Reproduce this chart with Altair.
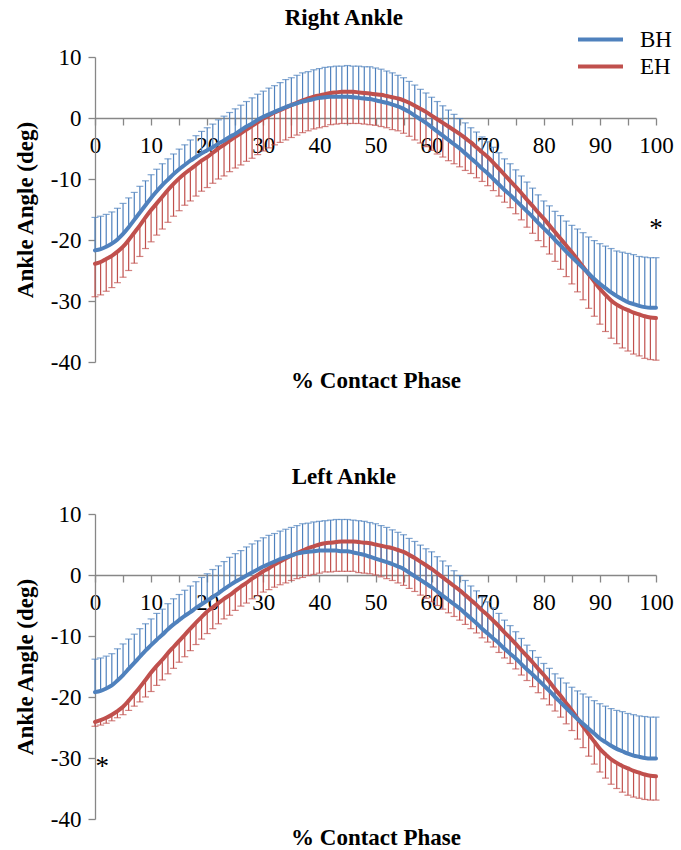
import altair as alt
import pandas as pd

# ---------------- data ----------------
x_pct = list(range(101))
x_tick_values = list(range(0, 101, 5))
y_tick_values = [-40, -30, -20, -10, 0, 10]
groups = ["BH", "EH"]
colors = ["#4F81BD", "#C0504D"]

right_bh_mean = [
    -21.7, -21.5, -21.1, -20.6, -19.9, -19.0, -17.9, -16.7, -15.5, -14.3,
    -13.1, -12.0, -11.0, -10.1, -9.2, -8.4, -7.7, -7.0, -6.4, -5.8,
    -5.3, -4.8, -4.2, -3.7, -3.1, -2.6, -2.0, -1.4, -0.9, -0.3,
    0.2, 0.6, 1.0, 1.4, 1.8, 2.1, 2.4, 2.7, 2.9, 3.1,
    3.3, 3.4, 3.5, 3.5, 3.5, 3.5, 3.4, 3.3, 3.2, 3.1,
    2.9, 2.7, 2.5, 2.2, 1.9, 1.5, 1.0, 0.4, -0.2, -0.8,
    -1.5, -2.2, -2.9, -3.6, -4.3, -5.0, -5.8, -6.6, -7.4, -8.3,
    -9.1, -10.0, -10.9, -11.8, -12.6, -13.5, -14.4, -15.3, -16.2, -17.2,
    -18.1, -19.0, -20.0, -20.9, -21.9, -22.8, -23.7, -24.6, -25.5, -26.4,
    -27.2, -27.9, -28.6, -29.2, -29.7, -30.2, -30.5, -30.8, -31.0, -31.1,
    -31.1]
right_bh_sd = [
    5.4, 5.4, 5.3, 5.2, 5.1, 5.0, 4.8, 4.5, 4.3, 4.0,
    3.8, 3.6, 3.5, 3.4, 3.3, 3.3, 3.3, 3.4, 3.5, 3.6,
    3.7, 3.8, 3.9, 4.0, 4.0, 4.1, 4.1, 4.1, 4.2, 4.2,
    4.2, 4.3, 4.3, 4.4, 4.5, 4.5, 4.6, 4.7, 4.7, 4.8,
    4.8, 4.9, 4.9, 5.0, 5.0, 5.1, 5.1, 5.2, 5.2, 5.3,
    5.3, 5.3, 5.2, 5.2, 5.1, 5.1, 5.0, 5.0, 4.9, 4.9,
    4.9, 4.9, 4.9, 4.9, 4.9, 4.9, 5.0, 5.0, 5.1, 5.2,
    5.2, 5.2, 5.2, 5.1, 5.1, 5.0, 4.9, 4.8, 4.7, 4.6,
    4.5, 4.6, 4.7, 4.9, 5.0, 5.2, 5.5, 5.8, 6.0, 6.3,
    6.6, 6.9, 7.2, 7.4, 7.7, 8.0, 8.1, 8.1, 8.2, 8.2,
    8.2]
right_eh_mean = [
    -23.9, -23.6, -23.1, -22.6, -21.9, -21.1, -20.0, -18.8, -17.6, -16.3,
    -15.1, -14.0, -12.9, -11.8, -10.8, -9.9, -9.1, -8.4, -7.7, -7.0,
    -6.4, -5.7, -5.0, -4.4, -3.7, -3.1, -2.5, -1.9, -1.3, -0.7,
    -0.1, 0.4, 0.9, 1.3, 1.7, 2.1, 2.5, 2.9, 3.2, 3.5,
    3.7, 3.9, 4.1, 4.2, 4.3, 4.3, 4.3, 4.2, 4.1, 4.0,
    3.9, 3.8, 3.6, 3.4, 3.2, 2.9, 2.5, 2.0, 1.5, 1.0,
    0.4, -0.2, -0.8, -1.4, -2.0, -2.6, -3.3, -4.0, -4.8, -5.6,
    -6.4, -7.3, -8.3, -9.3, -10.3, -11.3, -12.3, -13.4, -14.4, -15.5,
    -16.5, -17.6, -18.7, -19.8, -20.9, -22.0, -23.2, -24.4, -25.6, -26.8,
    -28.0, -29.0, -29.9, -30.6, -31.1, -31.5, -31.9, -32.2, -32.5, -32.7,
    -32.8]
right_eh_sd = [
    5.4, 5.4, 5.3, 5.2, 5.1, 5.0, 5.0, 5.0, 5.1, 5.1,
    5.2, 5.2, 5.3, 5.3, 5.3, 5.3, 5.2, 5.2, 5.1, 5.0,
    5.0, 5.0, 5.0, 5.1, 5.1, 5.1, 5.2, 5.2, 5.3, 5.3,
    5.3, 5.3, 5.3, 5.3, 5.3, 5.3, 5.3, 5.3, 5.3, 5.3,
    5.3, 5.3, 5.2, 5.2, 5.2, 5.2, 5.2, 5.1, 5.1, 5.1,
    5.1, 5.2, 5.2, 5.3, 5.3, 5.4, 5.5, 5.6, 5.6, 5.7,
    5.7, 5.7, 5.6, 5.6, 5.5, 5.4, 5.3, 5.1, 5.0, 4.8,
    4.7, 4.6, 4.5, 4.5, 4.4, 4.4, 4.4, 4.5, 4.5, 4.6,
    4.6, 4.7, 4.8, 5.0, 5.1, 5.2, 5.3, 5.4, 5.6, 5.7,
    5.8, 6.0, 6.2, 6.4, 6.6, 6.7, 6.8, 6.8, 6.9, 6.9,
    6.9]

left_bh_mean = [
    -19.2, -19.0, -18.6, -18.1, -17.3, -16.4, -15.4, -14.4, -13.4, -12.4,
    -11.5, -10.6, -9.8, -8.9, -8.1, -7.4, -6.7, -6.1, -5.4, -4.8,
    -4.2, -3.6, -3.0, -2.3, -1.7, -1.1, -0.6, -0.1, 0.4, 0.9,
    1.4, 1.8, 2.2, 2.6, 2.9, 3.2, 3.5, 3.7, 3.8, 3.9,
    4.0, 4.0, 4.0, 4.0, 3.9, 3.9, 3.7, 3.5, 3.3, 3.0,
    2.7, 2.4, 2.1, 1.8, 1.4, 1.0, 0.4, -0.2, -0.8, -1.4,
    -2.0, -2.7, -3.4, -4.1, -4.8, -5.5, -6.3, -7.1, -7.9, -8.8,
    -9.6, -10.4, -11.2, -12.1, -12.9, -13.7, -14.6, -15.5, -16.3, -17.2,
    -18.1, -19.0, -20.0, -20.9, -21.8, -22.7, -23.6, -24.4, -25.2, -26.0,
    -26.8, -27.4, -28.0, -28.5, -28.9, -29.3, -29.6, -29.8, -30.0, -30.1,
    -30.1]
left_bh_sd = [
    5.4, 5.4, 5.3, 5.2, 5.2, 5.1, 4.9, 4.7, 4.6, 4.4,
    4.3, 4.3, 4.2, 4.2, 4.2, 4.2, 4.2, 4.3, 4.3, 4.4,
    4.4, 4.5, 4.5, 4.5, 4.6, 4.6, 4.6, 4.7, 4.7, 4.7,
    4.7, 4.7, 4.6, 4.6, 4.6, 4.6, 4.6, 4.7, 4.7, 4.8,
    4.8, 4.9, 5.0, 5.1, 5.2, 5.2, 5.3, 5.4, 5.5, 5.6,
    5.7, 5.7, 5.7, 5.6, 5.6, 5.6, 5.6, 5.7, 5.7, 5.7,
    5.8, 5.7, 5.7, 5.6, 5.5, 5.4, 5.4, 5.3, 5.3, 5.2,
    5.2, 5.0, 4.9, 4.7, 4.6, 4.4, 4.2, 4.0, 3.9, 3.7,
    3.6, 3.7, 3.8, 4.0, 4.1, 4.3, 4.6, 4.9, 5.2, 5.4,
    5.7, 5.9, 6.1, 6.3, 6.5, 6.6, 6.7, 6.7, 6.8, 6.8,
    6.8]
left_eh_mean = [
    -24.1, -23.8, -23.4, -22.9, -22.3, -21.6, -20.6, -19.5, -18.4, -17.2,
    -16.0, -14.9, -13.9, -12.8, -11.8, -10.8, -9.8, -8.8, -7.8, -6.9,
    -6.0, -5.3, -4.6, -3.9, -3.3, -2.6, -1.9, -1.3, -0.6, 0.0,
    0.6, 1.1, 1.7, 2.2, 2.7, 3.2, 3.6, 4.0, 4.4, 4.7,
    5.0, 5.2, 5.3, 5.4, 5.5, 5.5, 5.5, 5.4, 5.3, 5.2,
    5.0, 4.8, 4.6, 4.4, 4.1, 3.8, 3.3, 2.8, 2.2, 1.6,
    1.0, 0.3, -0.4, -1.1, -1.8, -2.5, -3.3, -4.1, -4.9, -5.8,
    -6.6, -7.5, -8.4, -9.4, -10.3, -11.3, -12.3, -13.3, -14.3, -15.4,
    -16.4, -17.5, -18.7, -19.8, -21.0, -22.2, -23.5, -24.8, -26.1, -27.3,
    -28.5, -29.4, -30.2, -30.8, -31.3, -31.7, -32.1, -32.4, -32.7, -32.9,
    -33.0]
left_eh_sd = [
    0.7, 0.8, 0.9, 1.0, 1.1, 1.3, 1.6, 2.0, 2.4, 2.8,
    3.1, 3.2, 3.3, 3.4, 3.5, 3.5, 3.6, 3.6, 3.6, 3.6,
    3.6, 3.5, 3.4, 3.3, 3.3, 3.2, 3.2, 3.3, 3.3, 3.4,
    3.4, 3.5, 3.7, 3.8, 4.0, 4.1, 4.2, 4.4, 4.5, 4.6,
    4.7, 4.7, 4.8, 4.8, 4.9, 4.9, 4.9, 5.0, 5.0, 5.0,
    5.0, 5.1, 5.2, 5.3, 5.4, 5.5, 5.5, 5.5, 5.5, 5.4,
    5.4, 5.3, 5.2, 5.1, 5.0, 4.9, 4.8, 4.7, 4.6, 4.5,
    4.4, 4.3, 4.3, 4.2, 4.2, 4.1, 4.1, 4.0, 4.0, 3.9,
    3.9, 3.8, 3.6, 3.5, 3.4, 3.3, 3.4, 3.5, 3.6, 3.7,
    3.8, 3.9, 4.1, 4.2, 4.3, 4.4, 4.3, 4.2, 4.1, 4.0,
    3.9]

# significance markers (x %, angle)
right_star = (100, -19.5)
left_star = (1.3, -32.8)

# ---------------- styling ----------------
FONT = "Liberation Serif, Times New Roman, Times, serif"
W, H = 561, 305
Y_MIN, Y_MAX = -40, 10
ZERO_OFFSET = -round(H * (0 - Y_MIN) / (Y_MAX - Y_MIN))  # move x axis to y = 0
AXIS_GRAY = "#878787"


def build_df(bh_m, bh_s, eh_m, eh_s):
    recs = []
    for i, xv in enumerate(x_pct):
        recs.append({"x": xv, "group": "BH", "mean": bh_m[i],
                     "end": round(bh_m[i] + bh_s[i], 2)})
        recs.append({"x": xv, "group": "EH", "mean": eh_m[i],
                     "end": round(eh_m[i] - eh_s[i], 2)})
    return pd.DataFrame(recs)


xscale = alt.Scale(domain=[0, 100], nice=False, zero=False)
yscale = alt.Scale(domain=[Y_MIN, Y_MAX], nice=False, zero=False)

x_axis = alt.Axis(
    values=x_tick_values,
    labelExpr="datum.value % 10 == 0 ? '' + datum.value : ''",
    offset=ZERO_OFFSET, tickSize=7, labelPadding=9,
    labelFlush=False, labelOverlap=False, labelBound=False,
    title="% Contact Phase", titleY=-ZERO_OFFSET + 18, titleBaseline="middle",
)
y_axis = alt.Axis(values=y_tick_values, tickSize=7, labelPadding=7,
                  labelExpr="'' + datum.value",
                  titlePadding=13, title="Ankle Angle (deg)")


def panel(df, title, title_offset, star, show_legend):
    base = alt.Chart(df)
    X = alt.X("x:Q", scale=xscale, axis=x_axis)
    Y = alt.Y("mean:Q", scale=yscale, axis=y_axis)
    Yend = alt.Y("end:Q", scale=yscale, axis=y_axis)
    legend = None
    if show_legend:
        legend = alt.Legend(
            title=None, orient="none", legendX=492, legendY=-31,
            direction="vertical", symbolType="M-2,0L2,0", symbolSize=506,
            symbolStrokeWidth=4, labelFont=FONT, labelFontSize=23,
            labelColor="black", labelOffset=26, rowPadding=1, padding=0,
        )
    color = alt.Color("group:N", scale=alt.Scale(domain=groups, range=colors),
                      legend=legend)
    layers = []
    for g, c in [("EH", colors[1]), ("BH", colors[0])]:
        sub = base.transform_filter(alt.datum.group == g)
        layers.append(sub.mark_rule(color=c, strokeWidth=1.2).encode(
            x=X, y=Y, y2="end:Q"))
    for g, c in [("EH", colors[1]), ("BH", colors[0])]:
        sub = base.transform_filter(alt.datum.group == g)
        layers.append(sub.mark_tick(color=c, orient="horizontal", size=7,
                                    thickness=1.2).encode(x=X, y=Yend))
    for g in ["EH", "BH"]:
        sub = base.transform_filter(alt.datum.group == g)
        layers.append(sub.mark_line(strokeWidth=4, strokeCap="round",
                                    interpolate="monotone").encode(
            x=X, y=Y, color=color))
    star_df = pd.DataFrame({"x": [star[0]], "y": [star[1]], "t": ["*"]})
    layers.append(alt.Chart(star_df).mark_text(
        font=FONT, fontSize=27, color="black", baseline="alphabetic",
        align="center").encode(
        x=alt.X("x:Q", scale=xscale, axis=x_axis),
        y=alt.Y("y:Q", scale=yscale, axis=y_axis), text="t:N"))
    return alt.layer(*layers).properties(
        width=W, height=H,
        title=alt.TitleParams(title, font=FONT, fontSize=23, fontWeight="bold",
                              color="black", anchor="middle", frame="bounds",
                              offset=title_offset),
    )


top = panel(build_df(right_bh_mean, right_bh_sd, right_eh_mean, right_eh_sd),
            "Right Ankle", -4, right_star, True)
bottom = panel(build_df(left_bh_mean, left_bh_sd, left_eh_mean, left_eh_sd),
               "Left Ankle", 14, left_star, False)

chart = (
    alt.vconcat(top, bottom, spacing=74)
    .resolve_scale(color="independent")
    .properties(padding={"left": 14, "top": 7, "right": 5, "bottom": 0},
                background="white")
    .configure_view(stroke=None)
    .configure_axis(
        grid=False, domainColor=AXIS_GRAY, tickColor=AXIS_GRAY,
        domainWidth=1.3, tickWidth=1.3,
        labelFont=FONT, labelFontSize=23, labelColor="black",
        titleFont=FONT, titleFontSize=23, titleFontWeight="bold",
        titleColor="black",
    )
)

chart.save("out.html", embed_options={"renderer": "svg", "actions": False})
